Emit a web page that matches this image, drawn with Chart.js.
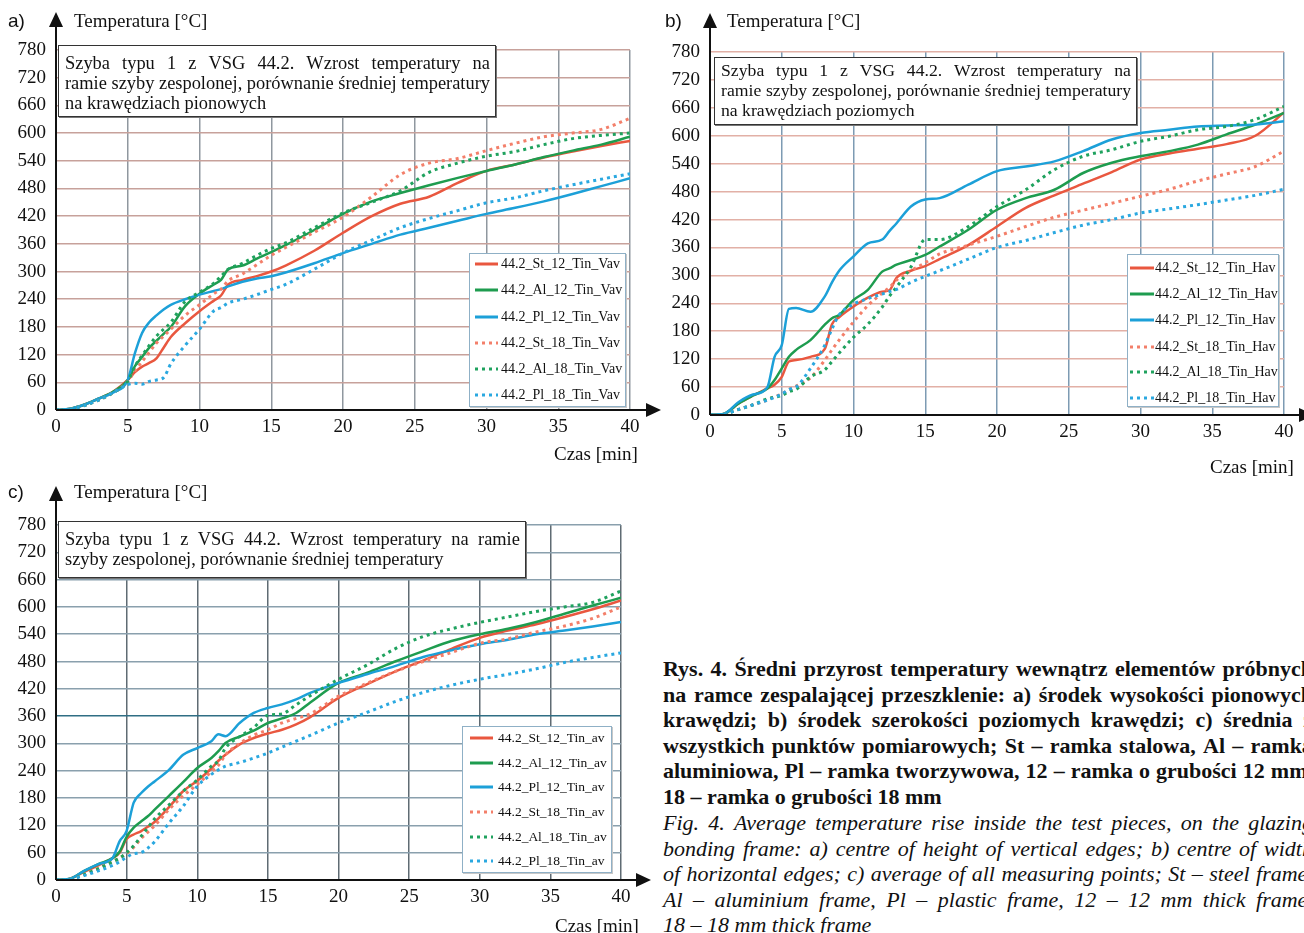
<!DOCTYPE html>
<html>
<head>
<meta charset="utf-8">
<script src="https://cdn.jsdelivr.net/npm/chart.js@4.4.1/dist/chart.umd.min.js"></script>
<style>
  body { margin: 0; width: 1304px; height: 933px; overflow: hidden; background: #fff; position: relative;
         font-family: "Liberation Serif", "Times New Roman", serif; color: #111; }
  canvas { position: absolute; }
  .lbl { position: absolute; font-family: "Liberation Sans", Arial, sans-serif; font-size: 19px; line-height: 1; transform: translateY(-50%); }
  .ttl { position: absolute; font-size: 19px; line-height: 1; white-space: nowrap; transform: translateY(-50%); }
  .note { position: absolute; background: #fff; border: 1px solid #333; box-shadow: 1px 1px 0 #777; box-sizing: border-box; }
  .note div { position: absolute; white-space: nowrap; line-height: 1; transform: translateY(-50%); }
  .just { display: flex; justify-content: space-between; }
  .legend { position: absolute; background: #fff; border: 1.5px solid #8fb0c6; box-shadow: 1px 1px 0 #c8c8c8; box-sizing: border-box; }
  .legend .sw { position: absolute; height: 3px; transform: translateY(-50%); }
  .legend .tx { position: absolute; white-space: nowrap; line-height: 1; transform: translateY(-50%); font-size: 14px; }
  .cap { position: absolute; left: 663px; width: 650px; font-size: 22px; line-height: 25.6px; }
  .cap div { white-space: nowrap; height: 25.6px; }
  .cap.b { font-weight: bold; }
  .cap.i { font-style: italic; }
</style>
</head>
<body>

<canvas id="chartA" width="670" height="470" style="left:0;top:0"></canvas>
<canvas id="chartB" width="654" height="470" style="left:650px;top:0"></canvas>
<canvas id="chartC" width="660" height="463" style="left:0;top:470px"></canvas>

<div class="lbl" style="left:8px;top:20px">a)</div>
<div class="ttl" style="left:74px;top:20px">Temperatura [°C]</div>
<div class="ttl" style="left:554px;top:453px">Czas [min]</div>

<div class="lbl" style="left:665px;top:20px">b)</div>
<div class="ttl" style="left:727px;top:20px">Temperatura [°C]</div>
<div class="ttl" style="left:1210px;top:466px">Czas [min]</div>

<div class="lbl" style="left:8px;top:491px">c)</div>
<div class="ttl" style="left:74px;top:491px">Temperatura [°C]</div>
<div class="ttl" style="left:555px;top:925px">Czas [min]</div>

<div class="note" style="left:58px;top:45px;width:438px;height:72px;font-size:18.4px">
  <div class="just" style="left:6px;width:425px;top:17px">Szyba typu 1 z VSG 44.2. Wzrost temperatury na</div>
  <div class="just" style="left:6px;width:425px;top:37px">ramie szyby zespolonej, porównanie średniej temperatury</div>
  <div style="left:6px;top:57px">na krawędziach pionowych</div>
</div>
<div class="note" style="left:714px;top:57px;width:423px;height:68px;font-size:17.7px">
  <div class="just" style="left:6px;width:410px;top:13px">Szyba typu 1 z VSG 44.2. Wzrost temperatury na</div>
  <div class="just" style="left:6px;width:410px;top:33px">ramie szyby zespolonej, porównanie średniej temperatury</div>
  <div style="left:6px;top:53px">na krawędziach poziomych</div>
</div>
<div class="note" style="left:58px;top:521px;width:468px;height:57px;font-size:18.4px">
  <div class="just" style="left:6px;width:455px;top:17px">Szyba typu 1 z VSG 44.2. Wzrost temperatury na ramie</div>
  <div style="left:6px;top:37px">szyby zespolonej, porównanie średniej temperatury</div>
</div>

<div id="legA" class="legend" style="left:469px;top:253px;width:157px;height:154px"></div>
<div id="legB" class="legend" style="left:1127px;top:254px;width:152px;height:153px"></div>
<div id="legC" class="legend" style="left:462px;top:726px;width:150px;height:147px"></div>

<div class="cap b" style="top:656px">
  <div class="just">Rys. 4. Średni przyrost temperatury wewnątrz elementów próbnych</div>
  <div class="just">na ramce zespalającej przeszklenie: a) środek wysokości pionowych</div>
  <div class="just">krawędzi; b) środek szerokości poziomych krawędzi; c) średnia z</div>
  <div class="just">wszystkich punktów pomiarowych; St – ramka stalowa, Al – ramka</div>
  <div class="just">aluminiowa, Pl – ramka tworzywowa, 12 – ramka o grubości 12 mm,</div>
  <div>18 – ramka o grubości 18 mm</div>
</div>
<div class="cap i" style="top:810px">
  <div class="just">Fig. 4. Average temperature rise inside the test pieces, on the glazing</div>
  <div class="just">bonding frame: a) centre of height of vertical edges; b) centre of width</div>
  <div class="just">of horizontal edges; c) average of all measuring points; St – steel frame,</div>
  <div class="just">Al –  aluminium frame, Pl – plastic frame, 12 – 12 mm thick frame,</div>
  <div>18 – 18 mm thick frame</div>
</div>

<script>
// czas [min] and temperatura [°C]
const timeA = [0,1,2,3,4,5,5.5,6,6.5,7,7.5,8,9,10,11,11.5,12,13,14,15,16,18,20,22,24,26,28,30,32,34,36,38,40];
const aSt12 = [0,3,12,25,40,65,82,94,102,112,135,158,188,214,237,248,272,282,290,300,313,345,384,420,447,462,492,518,532,547,560,572,583];
const aAl12 = [0,3,12,25,40,65,95,115,135,150,165,180,225,252,272,282,305,313,328,342,357,390,425,452,470,487,503,518,532,548,562,575,592];
const aPl12 = [0,3,12,25,38,65,123,167,190,205,218,228,240,250,258,262,268,278,285,290,298,318,340,360,380,395,410,425,438,452,468,485,502];
const aSt18 = [0,2,10,22,38,62,85,105,125,145,160,175,205,228,252,262,280,295,315,335,352,385,418,462,510,535,545,562,578,592,600,608,632];
const aAl18 = [0,2,10,22,38,62,95,118,140,160,175,190,235,255,275,290,305,318,335,350,362,395,427,450,475,515,535,550,560,575,588,595,600];
const aPl18 = [0,2,10,22,38,55,58,56,62,65,70,100,140,175,215,222,232,240,250,261,272,305,340,368,395,415,432,449,460,475,488,500,512];

const timeB = [0,1,2,3,4,4.5,5,5.5,6,7,8,8.5,9,10,11,12,12.5,13,14,15,16,18,20,22,24,26,28,30,32,34,36,38,40];
const bSt12 = [0,3,25,42,57,65,82,115,118,125,142,195,210,233,252,265,268,295,310,320,335,365,405,445,472,497,522,549,562,572,582,600,650];
const bAl12 = [0,3,25,42,57,75,100,125,140,161,194,208,215,247,269,308,315,323,333,344,362,398,441,466,484,520,542,556,567,581,603,624,649];
const bPl12 = [0,3,28,44,60,125,150,228,230,222,255,285,310,341,369,377,395,412,448,463,466,495,524,534,545,567,592,606,613,620,622,624,631];
const bSt18 = [0,2,12,22,32,40,45,55,62,80,118,140,161,200,235,262,274,290,310,327,346,365,384,405,425,440,455,470,485,503,518,534,567];
const bAl18 = [0,2,12,22,35,38,42,50,55,82,97,115,133,167,195,232,255,275,318,377,377,405,448,484,527,556,570,588,599,613,620,635,663];
const bPl18 = [0,2,12,22,32,38,45,55,60,100,150,185,215,238,250,260,265,270,285,298,310,335,360,375,392,408,420,434,443,452,462,472,485];

const timeC = [0,1,2,3,4,4.5,5,5.5,6,6.5,7,8,9,10,11,11.5,12,13,14,15,16,17,18,20,22,24,26,28,30,32,34,36,38,40];
const cSt12 = [0,3,18,32,48,60,90,100,107,117,128,160,195,218,245,262,275,298,312,322,330,342,358,400,430,458,482,508,532,548,562,578,595,614];
const cAl12 = [0,3,20,35,48,62,95,115,128,140,155,185,215,246,268,283,301,315,328,345,355,367,390,433,455,480,503,525,540,552,567,585,603,620];
const cPl12 = [0,3,20,35,48,85,108,170,190,205,217,242,275,290,305,320,316,345,367,378,386,397,411,433,452,470,490,505,518,528,540,548,557,567];
const cSt18 = [0,2,12,25,40,48,58,72,90,105,120,155,185,210,238,252,275,300,318,330,345,355,365,404,432,458,480,500,520,530,545,558,575,600];
const cAl18 = [0,2,12,25,40,48,60,75,95,115,135,165,195,220,250,262,290,315,335,362,365,385,405,441,472,508,535,552,566,578,590,600,610,635];
const cPl18 = [0,2,10,20,32,40,50,58,60,70,85,125,162,206,232,242,250,258,268,279,292,305,318,345,368,392,412,428,441,452,464,478,489,499];

const namesA = ['44.2_St_12_Tin_Vav','44.2_Al_12_Tin_Vav','44.2_Pl_12_Tin_Vav','44.2_St_18_Tin_Vav','44.2_Al_18_Tin_Vav','44.2_Pl_18_Tin_Vav'];
const namesB = ['44.2_St_12_Tin_Hav','44.2_Al_12_Tin_Hav','44.2_Pl_12_Tin_Hav','44.2_St_18_Tin_Hav','44.2_Al_18_Tin_Hav','44.2_Pl_18_Tin_Hav'];
const namesC = ['44.2_St_12_Tin_av','44.2_Al_12_Tin_av','44.2_Pl_12_Tin_av','44.2_St_18_Tin_av','44.2_Al_18_Tin_av','44.2_Pl_18_Tin_av'];

const lineColors = ['#e9573f','#1e9c4f','#1ca0d8','#f37f6a','#1fa25e','#2aa8e0'];

// draws the black axes with arrow heads
const arrowAxes = {
  id: 'arrowAxes',
  afterDraw(chart, args, opts) {
    const { ctx, chartArea: a } = chart;
    ctx.save();
    ctx.strokeStyle = '#111';
    ctx.fillStyle = '#111';
    ctx.lineWidth = 2;
    ctx.beginPath();
    ctx.moveTo(a.left, a.bottom);
    ctx.lineTo(a.left, opts.yTip + 10);
    ctx.moveTo(a.left, a.bottom);
    ctx.lineTo(opts.xTip - 10, a.bottom);
    ctx.stroke();
    ctx.beginPath();
    ctx.moveTo(a.left, opts.yTip);
    ctx.lineTo(a.left - 7, opts.yTip + 15);
    ctx.lineTo(a.left + 7, opts.yTip + 15);
    ctx.closePath();
    ctx.fill();
    ctx.beginPath();
    ctx.moveTo(opts.xTip, a.bottom);
    ctx.lineTo(opts.xTip - 15, a.bottom - 7);
    ctx.lineTo(opts.xTip - 15, a.bottom + 7);
    ctx.closePath();
    ctx.fill();
    ctx.restore();
  }
};

function buildChart(id, times, series, names, look) {
  const datasets = series.map((vals, i) => ({
    label: names[i],
    data: vals.map((v, k) => ({ x: times[k], y: v })),
    borderColor: lineColors[i],
    borderWidth: i < 3 ? 2.5 : 3,
    borderDash: i < 3 ? [] : [3, 4],
    borderCapStyle: 'butt',
    pointRadius: 0,
    fill: false,
    cubicInterpolationMode: 'monotone'
  })).reverse();

  const tickFont = { family: 'Liberation Serif', size: 19 };
  new Chart(document.getElementById(id), {
    type: 'line',
    data: { datasets: datasets },
    options: {
      responsive: false,
      animation: false,
      layout: { padding: look.pad },
      plugins: { legend: { display: false }, tooltip: { enabled: false }, arrowAxes: look.arrows },
      scales: {
        x: {
          type: 'linear', min: 0, max: 40,
          afterFit: s => { s.height = 30; },
          border: { display: false },
          grid: { color: look.xGrid, lineWidth: 1.5, drawTicks: false },
          ticks: { stepSize: 5, font: tickFont, color: '#111', padding: 6, maxRotation: 0, autoSkip: false }
        },
        y: {
          min: 0, max: 780,
          afterFit: s => { s.width = 56; },
          border: { display: false },
          grid: { color: look.yGrid, lineWidth: 1.5, drawTicks: false },
          ticks: { stepSize: 60, font: tickFont, color: '#111', padding: 10, autoSkip: false }
        }
      }
    },
    plugins: [arrowAxes]
  });
}

function buildLegend(id, names, rows, swLeft, swWidth, txLeft, fontSize) {
  const box = document.getElementById(id);
  names.forEach((name, i) => {
    const sw = document.createElement('div');
    sw.className = 'sw';
    sw.style.left = swLeft + 'px';
    sw.style.top = rows[i] + 'px';
    sw.style.width = swWidth + 'px';
    sw.style.background = i < 3 ? lineColors[i]
      : 'repeating-linear-gradient(90deg,' + lineColors[i] + ' 0 3px, transparent 3px 7px)';
    box.appendChild(sw);
    const tx = document.createElement('div');
    tx.className = 'tx';
    tx.style.left = txLeft + 'px';
    tx.style.top = rows[i] + 'px';
    tx.style.fontSize = fontSize + 'px';
    tx.textContent = name;
    box.appendChild(tx);
  });
}

// justified lines: spread words across the line width
document.querySelectorAll('.just').forEach(el => {
  const words = el.textContent.trim().split(/\s+/);
  el.textContent = '';
  words.forEach(w => {
    const s = document.createElement('span');
    s.textContent = w;
    el.appendChild(s);
  });
});

buildChart('chartA', timeA, [aSt12, aAl12, aPl12, aSt18, aAl18, aPl18], namesA, {
  pad: { left: 0, top: 50, right: 40, bottom: 30 },
  arrows: { yTip: 12, xTip: 661 },
  xGrid: '#8f979f',
  yGrid: '#c7a19b'
});
buildChart('chartB', timeB, [bSt12, bAl12, bPl12, bSt18, bAl18, bPl18], namesB, {
  pad: { left: 4, top: 52, right: 20, bottom: 25 },
  arrows: { yTip: 13, xTip: 664 },
  xGrid: '#7d9bb3',
  yGrid: '#e2b0a6'
});
buildChart('chartC', timeC, [cSt12, cAl12, cPl12, cSt18, cAl18, cPl18], namesC, {
  pad: { left: 0, top: 55, right: 39, bottom: 23 },
  arrows: { yTip: 16, xTip: 651 },
  xGrid: '#5f6b73',
  yGrid: ctx => (ctx.tick && ctx.tick.value === 360) ? '#2f6e84' : '#8aa0ad'
});

buildLegend('legA', namesA, [10, 36, 63, 89, 115, 141], 5, 23, 31, 14);
buildLegend('legB', namesB, [13, 39, 65, 92, 117, 143], 2, 24, 27, 14);
buildLegend('legC', namesC, [11, 36, 60, 85, 110, 134], 7, 23, 35, 13.5);
</script>
</body>
</html>
